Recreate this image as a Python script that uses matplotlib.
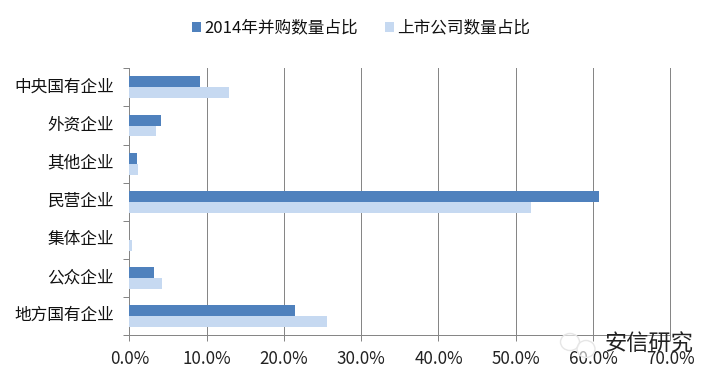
import matplotlib
matplotlib.use("Agg")
import matplotlib.pyplot as plt
import matplotlib.transforms as mtrans
import numpy as np
from matplotlib.patches import Ellipse

plt.rcParams['font.family'] = ['Noto Sans CJK SC', 'DejaVu Sans']

categories = ['中央国有企业', '外资企业', '其他企业', '民营企业', '集体企业', '公众企业', '地方国有企业']
ma_share = [9.15, 4.1, 1.0, 60.8, 0.0, 3.2, 21.4]
listed_share = [12.9, 3.45, 1.1, 52.0, 0.35, 4.2, 25.6]
x_ticks = [0, 10, 20, 30, 40, 50, 60, 70]
series_names = ['2014年并购数量占比', '上市公司数量占比']
watermark = '安信研究'

W, H = 715, 380
fig = plt.figure(figsize=(W / 100, H / 100), dpi=100, facecolor='white')
ax = fig.add_axes([129.3 / W, 1 - 335.3 / H, (670.3 - 129.3) / W, (335.3 - 68.3) / H])

GRID = '#868686'
y = np.arange(len(categories))
h = 0.288
b1 = ax.barh(y - h / 2, ma_share, height=h, color='#4F81BD', zorder=3, label=series_names[0])
b2 = ax.barh(y + h / 2, listed_share, height=h, color='#C6D9F1', zorder=3, label=series_names[1])

ax.set_xlim(0, 70)
ax.set_ylim(len(categories) - 0.5, -0.5)
ax.set_xticks(x_ticks)
ax.set_xticklabels([f'{v:.1f}%' for v in x_ticks], fontsize=12.2, color='#222222')
ax.set_yticks(np.arange(len(categories) + 1) - 0.5)
ax.set_yticklabels([])
ax.set_yticks(y, minor=True)
ax.set_yticklabels(categories, minor=True, fontsize=12, color='#111111')
ax.tick_params(axis='y', which='minor', length=0, pad=11)
ax.tick_params(axis='y', which='major', length=4.3, width=0.72, color=GRID)
ax.tick_params(axis='x', length=4.3, width=0.72, color=GRID, pad=6)
ax.grid(axis='x', color=GRID, linewidth=0.72, zorder=1)
for g in ax.get_xgridlines():
    g.set_clip_on(False)
ax.set_axisbelow(True)
for s in ('top', 'right'):
    ax.spines[s].set_visible(False)
for s in ('left', 'bottom'):
    ax.spines[s].set_color(GRID)
    ax.spines[s].set_linewidth(0.72)

# category labels sit about 2.5 px above the band centres in the reference
shift = mtrans.ScaledTranslation(0, 2.5 / 100, fig.dpi_scale_trans)
for lab in ax.get_yticklabels(minor=True):
    lab.set_transform(lab.get_transform() + shift)

fig.legend(handles=[b1, b2], loc='center', bbox_to_anchor=(361 / W, 1 - 28 / H), ncol=2,
           frameon=False, fontsize=12, handlelength=0.54, handleheight=0.54,
           handletextpad=0.2, columnspacing=1.6, labelcolor='#111111', borderpad=0)

# watermark logo and text over the chart
for cx, cy, rx, ry in [(570, 342, 9.5, 8.5), (586, 349, 9, 8.5)]:
    fig.add_artist(Ellipse((cx / W, 1 - cy / H), 2 * rx / W, 2 * ry / H, transform=fig.transFigure,
                           facecolor=(1, 1, 1, 0.6), edgecolor='#e6e6e6', linewidth=1, zorder=10))
fig.text(648.5 / W, 1 - 344 / H, watermark, fontsize=16, ha='center', va='center',
         color='#222222', zorder=11)

fig.savefig('out.png', dpi=100, facecolor='white')
